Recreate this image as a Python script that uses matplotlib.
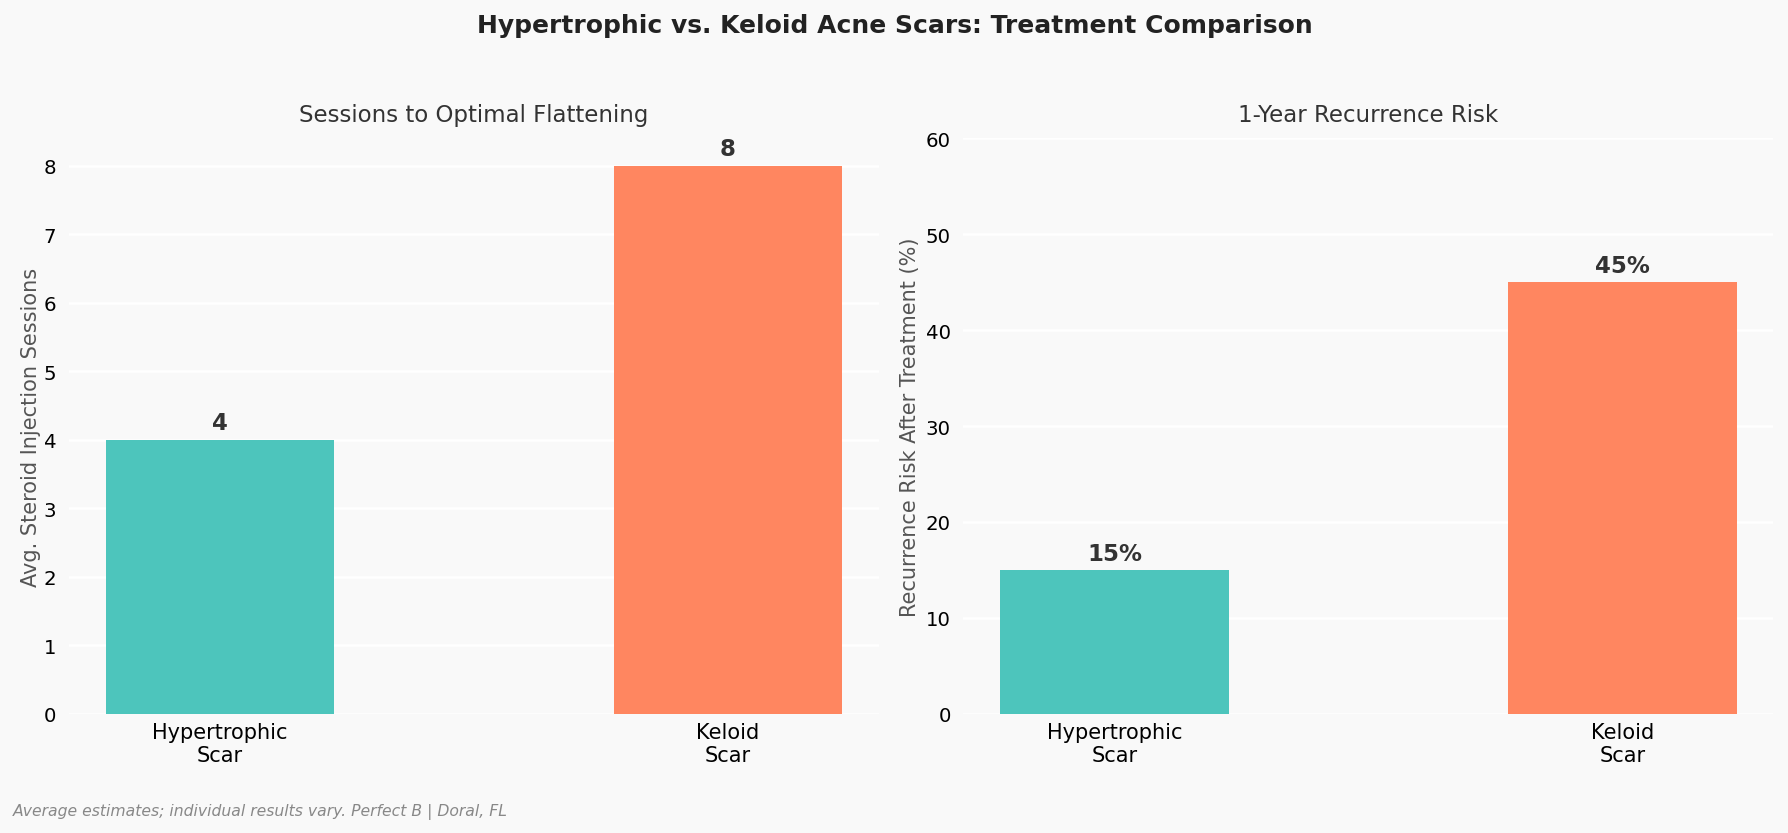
import numpy as np
import matplotlib
matplotlib.use("Agg")
import matplotlib.pyplot as plt

categories = ["Hypertrophic\nScar", "Keloid\nScar"]
sessions = [4, 8]
recurrence = [15, 45]
colors = ["#4DC5BC", "#FF8660"]

bg = "#f9f9f9"
plt.rcParams['font.family'] = ['DejaVu Sans']

fig = plt.figure(figsize=(1789 / 150, 834 / 150), dpi=150, facecolor=bg)
ax1 = fig.add_axes([0.0385, 0.143, 0.4528, 0.690])
ax2 = fig.add_axes([0.5385, 0.143, 0.4528, 0.690])

x = np.arange(len(categories))


def style(ax):
    ax.set_facecolor(bg)
    for s in ax.spines.values():
        s.set_visible(False)
    ax.yaxis.grid(True, color="white", linewidth=1.2)
    ax.set_axisbelow(True)
    ax.tick_params(axis="y", length=0, labelsize=9.5, pad=6)
    ax.tick_params(axis="x", length=0, labelsize=10, pad=4)
    ax.set_xticks(x)
    ax.set_xticklabels(categories)


# left panel
bars = ax1.bar(x, sessions, width=0.45, color=colors)
style(ax1)
ax1.set_ylim(0, 8.4)
ax1.set_yticks(range(0, 9))
ax1.set_title("Sessions to Optimal Flattening", fontsize=11, color="#333333", pad=8.5)
ax1.set_ylabel("Avg. Steroid Injection Sessions", fontsize=10, color="#555555", labelpad=1.5)
for b, v in zip(bars, sessions):
    ax1.text(b.get_x() + b.get_width() / 2, v + 0.08, str(v), ha="center", va="bottom",
             fontsize=11, fontweight="bold", color="#333333")

# right panel
bars = ax2.bar(x, recurrence, width=0.45, color=colors)
style(ax2)
ax2.set_ylim(0, 60)
ax2.set_title("1-Year Recurrence Risk", fontsize=11, color="#333333", pad=8.5)
ax2.set_ylabel("Recurrence Risk After Treatment (%)", fontsize=10, color="#555555", labelpad=3)
for b, v in zip(bars, recurrence):
    ax2.text(b.get_x() + b.get_width() / 2, v + 0.5, f"{v}%", ha="center", va="bottom",
             fontsize=11, fontweight="bold", color="#333333")

fig.suptitle("Hypertrophic vs. Keloid Acne Scars: Treatment Comparison", fontsize=12,
             fontweight="bold", color="#222222", y=0.983)
fig.text(0.007, 0.022, "Average estimates; individual results vary. Perfect B | Doral, FL",
         fontsize=7.5, style="italic", color="#888888")

fig.savefig("out.png", dpi=150, facecolor=bg)
